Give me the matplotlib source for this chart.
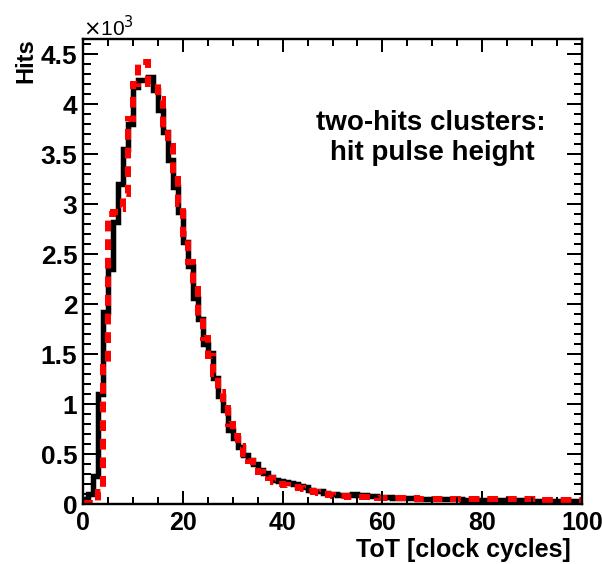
import numpy as np
import matplotlib
matplotlib.use("Agg")
import matplotlib.pyplot as plt
from matplotlib.ticker import MultipleLocator, FuncFormatter

plt.rcParams['font.family'] = ['Liberation Sans', 'DejaVu Sans']

# ToT binning: one bin per clock cycle, 0..100
tot_edges = np.arange(0, 101, 1)

# measured two-hit cluster pulse heights (hits per bin)
hits_data = [
    50, 100, 280, 1100, 1920, 2350, 2820, 3200, 3550, 3800,
    4170, 4240, 4240, 4270, 4140, 3940, 3720, 3440, 3170, 2920,
    2620, 2380, 2060, 1850, 1600, 1510, 1260, 1080, 940, 740,
    660, 570, 490, 440, 400, 340, 310, 270, 240, 230,
    220, 210, 200, 180, 170, 140, 130, 130, 110, 100,
    100, 90, 90, 90, 100, 95, 90, 85, 80, 75,
    70, 70, 65, 65, 60, 60, 60, 55, 55, 55,
    50, 50, 50, 50, 48, 48, 45, 45, 45, 42,
    42, 40, 40, 40, 38, 38, 36, 36, 35, 35,
    34, 33, 33, 32, 32, 31, 30, 30, 30, 30,
]

# simulated pulse heights (hits per bin)
hits_sim = [
    10, 15, 30, 120, 1370, 2900, 2920, 2950, 3100, 3850,
    4200, 4400, 4420, 4200, 4200, 4050, 3750, 3580, 3250, 3000,
    2700, 2420, 2150, 1880, 1660, 1480, 1300, 1120, 960, 800,
    680, 580, 500, 430, 380, 320, 290, 260, 220, 200,
    190, 180, 170, 160, 150, 130, 120, 110, 100, 90,
    85, 80, 80, 75, 75, 70, 70, 68, 66, 64,
    62, 60, 60, 58, 58, 56, 56, 55, 55, 54,
    54, 53, 53, 52, 52, 51, 51, 50, 50, 50,
    49, 49, 48, 48, 48, 47, 47, 47, 46, 46,
    46, 46, 45, 45, 45, 45, 45, 45, 45, 45,
]

px = 1 / 1.389  # points per pixel at 100 dpi

fig = plt.figure(figsize=(6.02, 5.64), dpi=100)
ax = fig.add_axes([83 / 602, 60 / 564, 499 / 602, 465 / 564])

ax.stairs(hits_data, tot_edges, color='black', lw=5.5 * px, joinstyle='miter')
ax.stairs(hits_sim, tot_edges, color='#ff0000', lw=6 * px,
          linestyle=(0, (1.8, 1.3)), joinstyle='miter', capstyle='butt')

ax.set_xlim(0, 100)
ax.set_ylim(0, 4650)

ax.xaxis.set_major_locator(MultipleLocator(20))
ax.xaxis.set_minor_locator(MultipleLocator(5))
ax.yaxis.set_major_locator(MultipleLocator(500))
ax.yaxis.set_minor_locator(MultipleLocator(100))
ax.yaxis.set_major_formatter(FuncFormatter(lambda v, p: '%g' % (v / 1000)))

for s in ax.spines.values():
    s.set_linewidth(2.4 * px)

ax.tick_params(which='both', direction='in', top=True, right=True,
               width=2 * px)
ax.tick_params(axis='y', which='major', length=15 * px, pad=4, labelsize=19)
ax.tick_params(axis='y', which='minor', length=8 * px)
ax.tick_params(axis='x', which='major', length=13 * px, pad=5, labelsize=18)
ax.tick_params(axis='x', which='minor', length=7 * px)
for lab in ax.get_xticklabels() + ax.get_yticklabels():
    lab.set_fontweight('bold')

fig.text(83 / 602, 1 - 36 / 564, r'$\times$10$^{3}$', fontsize=15,
         ha='left', va='baseline')
fig.text(26 / 602, 1 - 38 / 564, 'Hits', rotation=90, fontsize=17,
         fontweight='bold', ha='center', va='top')
fig.text(571 / 602, 1 - 557 / 564, 'ToT [clock cycles]', fontsize=18,
         fontweight='bold', ha='right', va='baseline')

fig.text(431 / 602, 1 - 130 / 564, 'two-hits clusters:', fontsize=20,
         fontweight='bold', ha='center', va='baseline')
fig.text(432 / 602, 1 - 160 / 564, 'hit pulse height', fontsize=20,
         fontweight='bold', ha='center', va='baseline')

fig.savefig('out.png', dpi=100)
